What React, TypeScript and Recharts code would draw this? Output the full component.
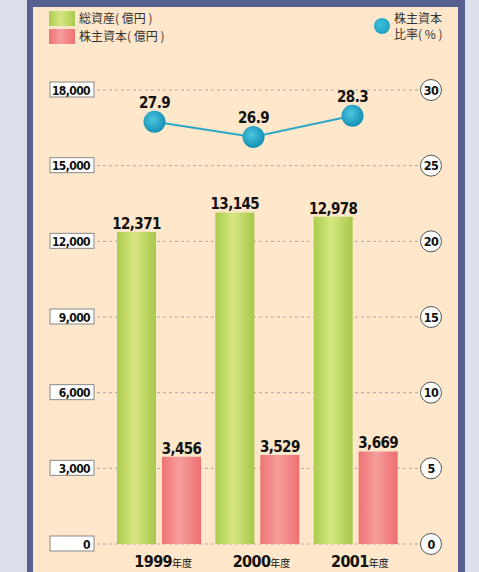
import React from "react";
import {
  Bar,
  CartesianGrid,
  ComposedChart,
  LabelList,
  Line,
  XAxis,
  YAxis,
} from "recharts";

const years = ["1999", "2000", "2001"];
const totalAssets = [12371, 13145, 12978];
const equity = [3456, 3529, 3669];
const equityRatio = [27.9, 26.9, 28.3];
const leftTicks = [0, 3000, 6000, 9000, 12000, 15000, 18000];
const rightTicks = [0, 5, 10, 15, 20, 25, 30];

const data = years.map((y, i) => ({
  year: y,
  assets: totalAssets[i],
  equity: equity[i],
  ratio: equityRatio[i],
}));

const NUM_FONT = "'DejaVu Sans Condensed', 'DejaVu Sans', sans-serif";
const NUM_STYLE = { fontStretch: "condensed" as const, letterSpacing: "-0.6px" };
const JP_FONT = "'Noto Sans CJK JP', sans-serif";

const fmt = (v: number) => v.toLocaleString("en-US");

const LeftTick = (props: any) => {
  const { x, y, payload } = props;
  return (
    <g>
      <rect x={x - 44} y={y - 8} width={44} height={15} fill="#fff" stroke="#888" strokeWidth={1} />
      <text x={x - 4} y={y + 4.5} textAnchor="end" fontFamily={NUM_FONT} style={NUM_STYLE} fontWeight="bold" fontSize={12} fill="#111">
        {fmt(payload.value)}
      </text>
    </g>
  );
};

const RightTick = (props: any) => {
  const { x, y, payload } = props;
  return (
    <g>
      <circle cx={x} cy={y} r={10.5} fill="#fff" stroke="#555" strokeWidth={1} />
      <text x={x} y={y + 4.5} textAnchor="middle" fontFamily={NUM_FONT} style={NUM_STYLE} fontWeight="bold" fontSize={12.5} fill="#111">
        {payload.value}
      </text>
    </g>
  );
};

const YearTick = (props: any) => {
  const { x, y, payload } = props;
  return (
    <text x={x + 4} y={y + 15} textAnchor="middle" fill="#111">
      <tspan fontFamily={NUM_FONT} style={NUM_STYLE} fontWeight="bold" fontSize={16}>{payload.value}</tspan>
      <tspan fontFamily={JP_FONT} fontSize={10}>年度</tspan>
    </text>
  );
};

const BallDot = (props: any) => {
  const { cx, cy } = props;
  return <circle cx={cx} cy={cy} r={11} fill="url(#ball)" />;
};

const RatioLabel = (props: any) => {
  const { x, y, value } = props;
  return (
    <text x={x} y={y - 14} textAnchor="middle" fontFamily={NUM_FONT} style={NUM_STYLE} fontWeight="bold" fontSize={15} fill="#111">
      {value.toFixed(1)}
    </text>
  );
};

const App: React.FC = () => {
  return (
    <div style={{ position: "absolute", left: 0, top: 0, width: 479, height: 572, background: "#dcdfeb", overflow: "hidden" }}>
      <div style={{ position: "absolute", left: 27, top: 0, width: 438, height: 572, background: "#566192" }} />
      <div style={{ position: "absolute", left: 33, top: 7, width: 425, height: 565, background: "#fee7ca" }} />

      {/* legend */}
      <div style={{ position: "absolute", left: 49, top: 11, width: 26, height: 15, background: "linear-gradient(90deg,#a9cc4e,#d6e680 45%,#a8ca4c)" }} />
      <div style={{ position: "absolute", left: 49, top: 29, width: 26, height: 15, background: "linear-gradient(90deg,#f07474,#f59c9c 45%,#ef7070)" }} />
      <div style={{ position: "absolute", left: 79, top: 9, fontFamily: JP_FONT, fontSize: 12, color: "#333", lineHeight: "18px", whiteSpace: "pre" }}>
        {"総資産( 億円 )\n株主資本( 億円 )"}
      </div>
      <div style={{ position: "absolute", left: 374, top: 18, width: 16, height: 16, borderRadius: 8, background: "radial-gradient(circle at 40% 40%, #3cc0dc, #1594b8)" }} />
      <div style={{ position: "absolute", left: 394, top: 10, fontFamily: JP_FONT, fontSize: 12, color: "#333", lineHeight: "16px", whiteSpace: "pre" }}>
        {"株主資本\n比率( % )"}
      </div>

      <div style={{ position: "absolute", left: 0, top: 0 }}>
        <ComposedChart
          width={479}
          height={572}
          data={data}
          margin={{ top: 90, right: 0, bottom: 0, left: 50 }}
          barGap={6}
        >
          <defs>
            <linearGradient id="green" x1="0" y1="0" x2="1" y2="0">
              <stop offset="0%" stopColor="#a9cc4e" />
              <stop offset="45%" stopColor="#d7e782" />
              <stop offset="100%" stopColor="#a5c84a" />
            </linearGradient>
            <linearGradient id="pink" x1="0" y1="0" x2="1" y2="0">
              <stop offset="0%" stopColor="#f07373" />
              <stop offset="45%" stopColor="#f69d9d" />
              <stop offset="100%" stopColor="#ee6f6f" />
            </linearGradient>
            <radialGradient id="ball" cx="0.42" cy="0.4" r="0.6">
              <stop offset="0%" stopColor="#4cc6e0" />
              <stop offset="100%" stopColor="#1490b5" />
            </radialGradient>
          </defs>
          <CartesianGrid vertical={false} stroke="#a8a8a8" strokeDasharray="3 3" yAxisId="left" />
          <XAxis
            dataKey="year"
            xAxisId="bars"
            padding={{ left: 13, right: 15 }}
            tickLine={false}
            axisLine={false}
            tick={<YearTick />}
            height={28}
          />
          <XAxis dataKey="year" xAxisId="line" padding={{ left: 8, right: 18 }} hide />
          <YAxis
            yAxisId="left"
            domain={[0, 18000]}
            ticks={leftTicks}
            width={47}
            tickSize={0}
            tickMargin={3}
            axisLine={false}
            tickLine={false}
            tick={<LeftTick />}
          />
          <YAxis
            yAxisId="right"
            orientation="right"
            domain={[0, 30]}
            ticks={rightTicks}
            width={59}
            tickSize={0}
            tickMargin={11}
            axisLine={false}
            tickLine={false}
            tick={<RightTick />}
          />
          <Bar dataKey="assets" xAxisId="bars" yAxisId="left" fill="url(#green)" barSize={39} isAnimationActive={false}>
            <LabelList dataKey="assets" position="top" offset={3} formatter={(v: any) => fmt(v)} fontFamily={NUM_FONT} style={NUM_STYLE} fontWeight="bold" fontSize={15} fill="#111" />
          </Bar>
          <Bar dataKey="equity" xAxisId="bars" yAxisId="left" fill="url(#pink)" barSize={39} isAnimationActive={false}>
            <LabelList dataKey="equity" position="top" offset={3} formatter={(v: any) => fmt(v)} fontFamily={NUM_FONT} style={NUM_STYLE} fontWeight="bold" fontSize={15} fill="#111" />
          </Bar>
          <Line
            dataKey="ratio"
            xAxisId="line"
            yAxisId="right"
            stroke="#2aa6c6"
            strokeWidth={2}
            dot={<BallDot />}
            activeDot={false}
            isAnimationActive={false}
          >
            <LabelList dataKey="ratio" content={<RatioLabel />} />
          </Line>
        </ComposedChart>
      </div>
    </div>
  );
};

export default App;
